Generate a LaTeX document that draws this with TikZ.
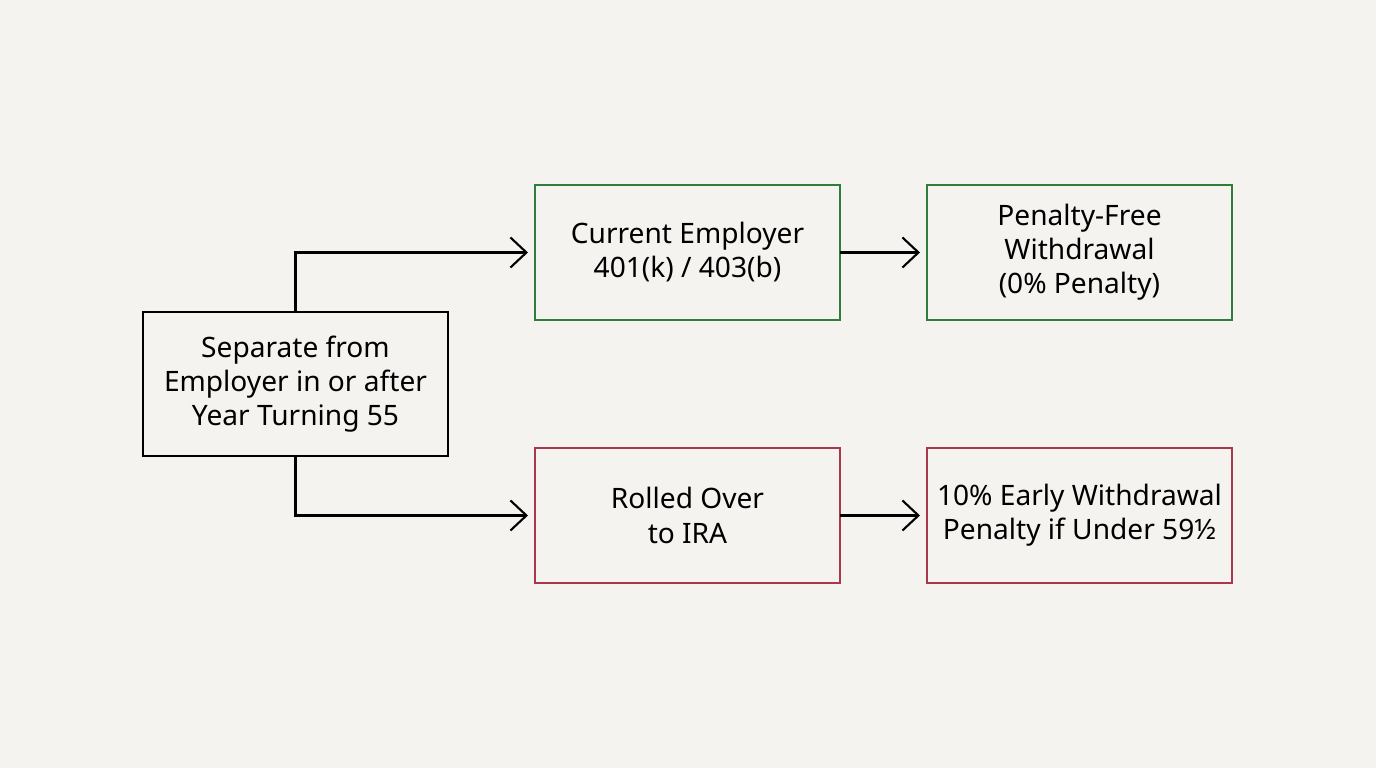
\documentclass[tikz,border=0pt]{standalone}
\usepackage{fontspec}
\setmainfont{Noto Sans}
\usepackage{xcolor}
\usetikzlibrary{arrows.meta,positioning}

\definecolor{bgpaper}{HTML}{F4F3EF}
\definecolor{okgreen}{HTML}{2E7D3A}
\definecolor{badred}{HTML}{A8384A}

\begin{document}
\begin{tikzpicture}[
font=\fontsize{8pt}{9.7pt}\selectfont,
box/.style={draw, line width=0.6pt, inner sep=0pt, outer sep=0pt, minimum width=30.5mm, minimum height=13.5mm, align=center, fill=bgpaper},
srcbox/.style={box, draw=black, minimum height=14.4mm},
goodbox/.style={box, draw=okgreen},
badbox/.style={box, draw=badred},
arr/.style={-{Straight Barb[length=1.6mm, width=3mm, line width=0.6pt]}, line width=0.6pt, shorten >=0.7mm}
]
\fill[bgpaper] (0,0) rectangle (137.6mm,76.8mm);
\useasboundingbox (0,0) rectangle (137.6mm,76.8mm);

\node[srcbox] (separate) at (29.55mm,38.4mm) {Separate from\\Employer in or after\\Year Turning 55};
\node[goodbox, right=8.7mm of separate, yshift=13.15mm] (current) {Current Employer\\401(k) / 403(b)};
\node[goodbox, right=8.7mm of current] (nopenalty) {Penalty-Free\\Withdrawal\\(0\% Penalty)};
\node[badbox, right=8.7mm of separate, yshift=-13.15mm] (rollover) {Rolled Over\\to IRA};
\node[badbox, right=8.7mm of rollover] (penalty) {10\% Early Withdrawal\\Penalty if Under 59½};

\draw[arr] (separate.north) |- (current.west);
\draw[arr] (separate.south) |- (rollover.west);
\draw[arr] (current) -- (nopenalty);
\draw[arr] (rollover) -- (penalty);
\end{tikzpicture}
\end{document}
